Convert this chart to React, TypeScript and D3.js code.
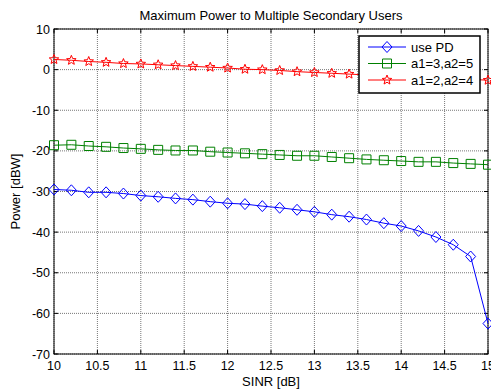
import React from 'react'
import * as d3 from 'd3'

const W = 491
const H = 391
const M = { left: 54, right: 3, top: 29, bottom: 37 }

const sinr = d3.range(26).map((i) => 10 + i * 0.2)
const usePD = [-29.5, -29.7, -30.2, -30.2, -30.5, -31.0, -31.3, -31.7, -32.0, -32.5, -32.9, -33.1, -33.6,
  -34.0, -34.5, -35.0, -35.7, -36.2, -36.9, -37.8, -38.5, -39.7, -41.2, -43.1, -46.0, -62.5]
const a35 = [-18.6, -18.5, -18.8, -19.0, -19.3, -19.5, -19.75, -19.9, -19.9, -20.2, -20.4, -20.6, -20.8,
  -21.0, -21.2, -21.2, -21.5, -21.8, -22.1, -22.3, -22.5, -22.7, -22.7, -23.0, -23.2, -23.4]
const a24 = [2.5, 2.3, 2.0, 1.8, 1.5, 1.4, 1.2, 1.0, 0.8, 0.6, 0.4, 0.1, 0.0,
  -0.2, -0.5, -0.7, -0.9, -1.1, -1.3, -1.5, -1.7, -1.9, -2.0, -2.2, -2.4, -2.6]

const xTicks = d3.range(11).map((i) => 10 + i * 0.5)
const yTicks = [10, 0, -10, -20, -30, -40, -50, -60, -70]

const series = [
  { name: 'use PD', values: usePD, color: '#0000ff', marker: 'diamond' },
  { name: 'a1=3,a2=5', values: a35, color: '#008000', marker: 'square' },
  { name: 'a1=2,a2=4', values: a24, color: '#ff0000', marker: 'star' },
]

const font = '"Liberation Sans", Arial, sans-serif'

function markerPath(kind: string) {
  if (kind === 'diamond') return 'M0,-5.5L5,0L0,5.5L-5,0Z'
  if (kind === 'square') return 'M-4.5,-4.5H4.5V4.5H-4.5Z'
  // pentagram
  const pts: string[] = []
  for (let i = 0; i < 10; i++) {
    const r = i % 2 === 0 ? 5 : 2.2
    const a = -Math.PI / 2 + (i * Math.PI) / 5
    pts.push(`${(r * Math.cos(a)).toFixed(2)},${(r * Math.sin(a)).toFixed(2)}`)
  }
  return 'M' + pts.join('L') + 'Z'
}

export default function App() {
  const x = d3.scaleLinear().domain([10, 15]).range([M.left, W - M.right])
  const y = d3.scaleLinear().domain([-70, 10]).range([H - M.bottom, M.top])
  const line = d3.line<number>().x((_, i) => x(sinr[i])).y((d) => y(d))
  const x0 = x(10), x1 = x(15), y0 = y(-70), y1 = y(10)

  const lg = { x: 359, y: 36, w: 121, h: 57 }

  return (
    <svg width={W} height={H} style={{ position: 'absolute', left: 0, top: 0, background: '#fff' }}
      fontFamily={font}>
      <rect x={0} y={0} width={W} height={H} fill="#fff" />
      {/* grid */}
      {xTicks.map((t) => (
        <line key={'gx' + t} x1={x(t)} x2={x(t)} y1={y1} y2={y0} stroke="#777" strokeDasharray="1,1" />
      ))}
      {yTicks.map((t) => (
        <line key={'gy' + t} x1={x0} x2={x1} y1={y(t)} y2={y(t)} stroke="#777" strokeDasharray="1,1" />
      ))}
      {/* ticks */}
      {xTicks.map((t) => (
        <g key={'tx' + t}>
          <line x1={x(t)} x2={x(t)} y1={y0} y2={y0 - 4} stroke="#000" />
          <line x1={x(t)} x2={x(t)} y1={y1} y2={y1 + 4} stroke="#000" />
          <text x={x(t)} y={y0 + 16} fontSize={12.5} textAnchor="middle">{t}</text>
        </g>
      ))}
      {yTicks.map((t) => (
        <g key={'ty' + t}>
          <line x1={x0} x2={x0 + 4} y1={y(t)} y2={y(t)} stroke="#000" />
          <line x1={x1} x2={x1 - 4} y1={y(t)} y2={y(t)} stroke="#000" />
          <text x={x0 - 4} y={y(t) + 4.5} fontSize={12.5} textAnchor="end">{t}</text>
        </g>
      ))}
      <rect x={x0} y={y1} width={x1 - x0} height={y0 - y1} fill="none" stroke="#000" />
      {/* series */}
      {series.map((s) => (
        <g key={s.name}>
          <path d={line(s.values) || ''} fill="none" stroke={s.color} strokeWidth={1} />
          {s.values.map((v, i) => (
            <path key={i} d={markerPath(s.marker)} transform={`translate(${x(sinr[i])},${y(v)})`}
              fill="none" stroke={s.color} strokeWidth={1} />
          ))}
        </g>
      ))}
      {/* legend */}
      <rect x={lg.x} y={lg.y} width={lg.w} height={lg.h} fill="#fff" stroke="#000" strokeWidth={1.5} />
      {series.map((s, i) => {
        const ly = lg.y + 11 + i * 16.5
        return (
          <g key={'lg' + s.name}>
            <line x1={lg.x + 9} x2={lg.x + 47} y1={ly} y2={ly} stroke={s.color} />
            <path d={markerPath(s.marker)} transform={`translate(${lg.x + 28},${ly})`} fill="none" stroke={s.color} />
            <text x={lg.x + 52} y={ly + 4.5} fontSize={13}>{s.name}</text>
          </g>
        )
      })}
      <text x={(x0 + x1) / 2} y={20} fontSize={13} textAnchor="middle">Maximum Power to Multiple Secondary Users</text>
      <text x={(x0 + x1) / 2} y={386} fontSize={13} textAnchor="middle">SINR [dB]</text>
      <text transform={`translate(20,${(y0 + y1) / 2}) rotate(-90)`} fontSize={13} textAnchor="middle">Power [dBW]</text>
    </svg>
  )
}
